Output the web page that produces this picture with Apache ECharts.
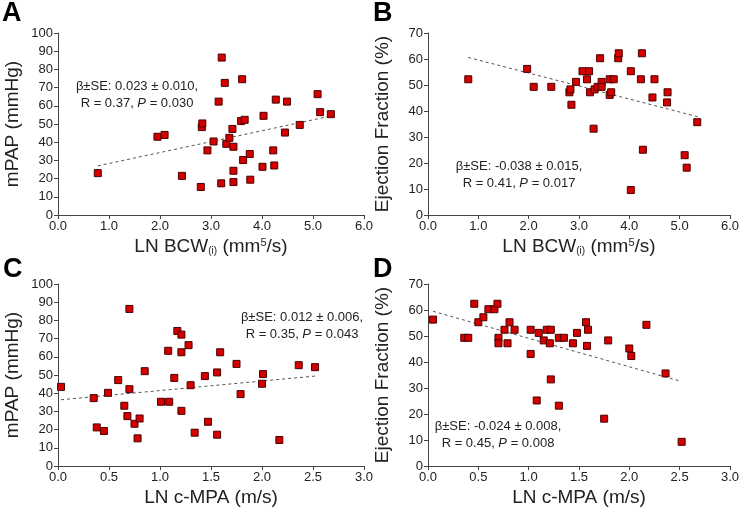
<!DOCTYPE html>
<html>
<head>
<meta charset="utf-8">
<script src="https://cdn.jsdelivr.net/npm/echarts@6/dist/echarts.min.js"></script>
<style>
html,body{margin:0;padding:0;background:#fff;}
#c{width:742px;height:513px;}
</style>
</head>
<body>
<div id="c"></div>
<script>
// Panel A: LN BCW(i) vs mPAP
const aX = [0.78,1.95,2.09,2.43,2.80,2.82,2.83,2.93,3.05,3.15,3.20,3.21,3.27,3.30,3.36,3.42,3.44,3.44,3.44,3.59,3.61,3.63,3.66,3.76,3.77,4.01,4.03,4.22,4.24,4.27,4.45,4.49,4.74,5.09,5.14,5.35];
const aY = [23,43,44,21.5,15.4,48.3,50.3,35.5,40.4,62.3,17.4,86.5,72.6,39.1,42.4,47.3,37.5,24.3,18.1,51.6,74.6,30.2,52.3,33.5,19.4,26.5,54.5,35.5,27.2,63.4,45.3,62.3,49.5,66.4,56.5,55.4];
const aTrend = [[0.78,27],[5.37,54.5]];

// Panel B: LN BCW(i) vs Ejection Fraction
const bX = [0.80,1.97,2.10,2.45,2.81,2.83,2.85,2.94,3.07,3.16,3.20,3.22,3.29,3.31,3.37,3.42,3.45,3.45,3.61,3.61,3.64,3.69,3.78,3.79,4.03,4.03,4.23,4.25,4.27,4.46,4.50,4.75,4.76,5.10,5.14,5.35];
const bY = [52.2,56.2,49.3,49.3,47.2,48.3,42.4,51.2,55.3,52.2,55.3,47.2,33.2,48.3,49.3,60.3,51.2,49.3,46.2,52.2,47.2,52.2,60.3,62.2,9.6,55.3,52.2,62.2,25.1,45.2,52.2,43.3,47.2,23.0,18.2,35.7];
const bTrend = [[0.80,60.6],[5.36,37.8]];

// Panel C: LN c-MPA vs mPAP
const cX = [0.03,0.35,0.38,0.45,0.49,0.59,0.65,0.68,0.70,0.70,0.75,0.78,0.80,0.85,1.01,1.08,1.09,1.14,1.17,1.21,1.21,1.21,1.28,1.30,1.34,1.44,1.47,1.56,1.56,1.59,1.75,1.79,2.00,2.01,2.17,2.36,2.52];
const cY = [43.5,37.3,21.2,19.2,40.2,47.2,33.1,27.4,86.3,42.2,23.2,15.2,26.1,52.1,35.3,63.3,35.3,48.4,74.2,72.2,62.5,30.3,66.4,44.4,18.3,49.4,24.3,51.4,17.2,62.5,56.1,39.5,45.2,50.5,14.3,55.4,54.3];
const cTrend = [[0.03,36.4],[2.52,49.4]];

// Panel D: LN c-MPA vs Ejection Fraction
const dX = [0.05,0.36,0.40,0.46,0.50,0.55,0.60,0.66,0.69,0.70,0.70,0.76,0.79,0.81,0.86,1.02,1.02,1.08,1.10,1.15,1.18,1.21,1.22,1.22,1.30,1.30,1.35,1.44,1.48,1.57,1.58,1.59,1.75,1.79,2.00,2.02,2.17,2.36,2.52];
const dY = [56.3,49.3,49.3,62.4,55.3,57.2,60.3,60.3,62.4,49.3,47.2,52.4,47.2,55.3,52.4,43.1,52.4,25.2,51.2,48.3,52.4,47.2,52.4,33.3,49.3,23.2,49.3,47.2,51.2,55.3,46.2,52.4,18.2,48.3,45.2,42.3,54.3,35.6,9.3];
const dTrend = [[0.05,59.5],[2.50,32.7]];

const xTicksA = 1, xTicksC = 0.5;

const FONT = '"Liberation Sans", Arial, sans-serif';
const TXT = '#222';
const AX = '#444';

const zip = (xs, ys) => xs.map((x, i) => [x, ys[i]]);

const chart = echarts.init(document.getElementById('c'), null, {renderer: 'canvas'});

const grids = [
  {left: 58, top: 33, width: 306, height: 182},
  {left: 428, top: 33, width: 306, height: 182},
  {left: 58, top: 284, width: 306, height: 182},
  {left: 428, top: 284, width: 306, height: 182}
];

function xAx(i, max, interval, name) {
  return {
    type: 'value', gridIndex: i, min: 0, max: max, interval: interval,
    name: name, nameLocation: 'middle', nameGap: 22,
    nameTextStyle: {
      fontFamily: FONT, color: TXT, fontSize: 19,
      rich: {
        a: {fontFamily: FONT, color: TXT, fontSize: 19},
        s: {fontFamily: FONT, color: TXT, fontSize: 10, verticalAlign: 'bottom', padding: [8, 0, 0, 0]},
        p: {fontFamily: FONT, color: TXT, fontSize: 11, verticalAlign: 'top'}
      }
    },
    axisLine: {show: true, lineStyle: {color: AX, width: 1}},
    axisTick: {show: true, inside: false, length: 4, lineStyle: {color: AX}},
    axisLabel: {fontFamily: FONT, fontSize: 13, color: TXT, margin: 5, formatter: v => v.toFixed(1)},
    splitLine: {show: false}
  };
}
function yAx(i, max, name) {
  return {
    type: 'value', gridIndex: i, min: 0, max: max, interval: 10,
    name: name, nameLocation: 'middle', nameGap: 36, nameRotate: 90,
    nameTextStyle: {fontFamily: FONT, color: TXT, fontSize: 19},
    axisLine: {show: true, lineStyle: {color: AX, width: 1}},
    axisTick: {show: true, inside: false, length: 4, lineStyle: {color: AX}},
    axisLabel: {fontFamily: FONT, fontSize: 13, color: TXT, margin: 5},
    splitLine: {show: false}
  };
}

const bcwName = '{a|LN BCW}{s|(i)}{a| (mm}{p|5}{a|/s)}';
const mpaName = 'LN c-MPA (m/s)';

function scatter(i, data) {
  return {
    type: 'scatter', xAxisIndex: i, yAxisIndex: i, data: data,
    symbol: 'rect', symbolSize: 7,
    itemStyle: {color: '#d40000', borderColor: '#4a0000', borderWidth: 1, opacity: 1},
    silent: true, z: 3
  };
}
function trend(i, data) {
  return {
    type: 'line', xAxisIndex: i, yAxisIndex: i, data: data,
    symbol: 'none', silent: true, z: 2,
    lineStyle: {color: '#555', width: 1, type: [3, 3]}
  };
}

function note(x, y, l1, r, p) {
  return {
    type: 'text', x: x, y: y, silent: true,
    style: {
      text: '{t|' + l1 + '}\n{t|R = ' + r + ', }{i|P}{t| = ' + p + '}',
      align: 'center', verticalAlign: 'middle',
      rich: {
        t: {fontFamily: FONT, fontSize: 13, fill: TXT, lineHeight: 17},
        i: {fontFamily: FONT, fontSize: 13, fill: TXT, fontStyle: 'italic', lineHeight: 17}
      }
    }
  };
}
function letter(x, y, t) {
  return {type: 'text', x: x, y: y, silent: true,
    style: {text: t, fontFamily: FONT, fontSize: 27, fontWeight: 'bold', fill: '#000'}};
}

chart.setOption({
  animation: false,
  backgroundColor: '#fff',
  grid: grids,
  xAxis: [xAx(0, 6, xTicksA, bcwName), xAx(1, 6, xTicksA, bcwName), xAx(2, 3, xTicksC, mpaName), xAx(3, 3, xTicksC, mpaName)],
  yAxis: [yAx(0, 100, 'mPAP (mmHg)'), yAx(1, 70, 'Ejection Fraction (%)'), yAx(2, 100, 'mPAP (mmHg)'), yAx(3, 70, 'Ejection Fraction (%)')],
  series: [
    trend(0, aTrend), scatter(0, zip(aX, aY)),
    trend(1, bTrend), scatter(1, zip(bX, bY)),
    trend(2, cTrend), scatter(2, zip(cX, cY)),
    trend(3, dTrend), scatter(3, zip(dX, dY))
  ],
  graphic: [
    letter(2, 0, 'A'), letter(373, 0, 'B'), letter(3, 256, 'C'), letter(373, 256, 'D'),
    note(137, 95, 'β±SE: 0.023 ± 0.010,', '0.37', '0.030'),
    note(519, 175, 'β±SE: -0.038 ± 0.015,', '0.41', '0.017'),
    note(302, 326, 'β±SE: 0.012 ± 0.006,', '0.35', '0.043'),
    note(498, 435, 'β±SE: -0.024 ± 0.008,', '0.45', '0.008')
  ]
});
</script>
</body>
</html>
